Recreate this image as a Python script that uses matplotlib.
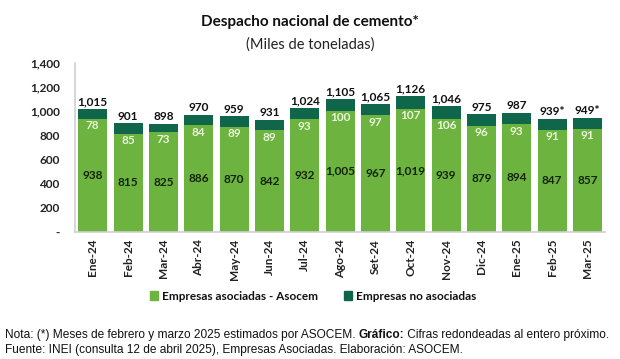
import matplotlib
matplotlib.use("Agg")
import matplotlib.pyplot as plt
from matplotlib.patches import Patch

months = ["Ene-24", "Feb-24", "Mar-24", "Abr-24", "May-24", "Jun-24", "Jul-24",
          "Ago-24", "Set-24", "Oct-24", "Nov-24", "Dic-24", "Ene-25", "Feb-25", "Mar-25"]
asociadas = [938, 815, 825, 886, 870, 842, 932, 1005, 967, 1019, 939, 879, 894, 847, 857]
no_asociadas = [78, 85, 73, 84, 89, 89, 93, 100, 97, 107, 106, 96, 93, 91, 91]
totales = [1015, 901, 898, 970, 959, 931, 1024, 1105, 1065, 1126, 1046, 975, 987, 939, 949]
estimados = [False] * 13 + [True, True]
yticks = [0, 200, 400, 600, 800, 1000, 1200, 1400]
ytick_labels = ["-", "200", "400", "600", "800", "1,000", "1,200", "1,400"]

LIGHT = "#6cb33f"
DARK = "#10664a"
FONT = ["Lato", "DejaVu Sans"]

fig = plt.figure(figsize=(6.2, 3.59), dpi=100)
ax = fig.add_axes([0.121, 0.354, 0.855, 0.4705])

x = list(range(len(months)))
ax.bar(x, asociadas, width=0.82, color=LIGHT, zorder=2)
ax.bar(x, no_asociadas, width=0.82, bottom=asociadas, color=DARK, zorder=2)

for i in x:
    ax.text(i, asociadas[i] / 2, f"{asociadas[i]:,}", ha="center", va="center",
            fontsize=8.5, fontweight="bold", color="#15220c", family=FONT, zorder=3)
    ax.annotate(f"{no_asociadas[i]:,}", (i, asociadas[i]), xytext=(0, -7),
                textcoords="offset pixels", ha="center", va="center",
                fontsize=8.5, fontweight="bold", color="#eaf6dc", family=FONT, zorder=3)
    top = asociadas[i] + no_asociadas[i]
    lab = f"{totales[i]:,}" + ("*" if estimados[i] else "")
    ax.annotate(lab, (i, top), xytext=(0, 7), textcoords="offset pixels",
                ha="center", va="center", fontsize=8.5, fontweight="bold",
                color="#111111", family=FONT, zorder=3)

ax.set_xlim(-0.5, 14.5)
ax.set_ylim(0, 1400)
ax.set_yticks(yticks)
ax.set_yticklabels(ytick_labels, family=FONT, fontsize=8.5, fontweight="bold", color="#222222")
ax.set_xticks(x)
ax.set_xticklabels(months, rotation=90, family=FONT, fontsize=8.5, fontweight="bold", color="#222222")
ax.tick_params(axis="both", length=0)
ax.tick_params(axis="y", pad=11)
ax.tick_params(axis="x", pad=5)
for s in ["top", "right"]:
    ax.spines[s].set_visible(False)
for s in ["left", "bottom"]:
    ax.spines[s].set_color("#d0d0d0")
    ax.spines[s].set_linewidth(1.2)

fig.text(0.5, 0.938, "Despacho nacional de cemento*", ha="center", va="center",
         fontsize=11, fontweight="bold", family=FONT, color="#111111")
fig.text(0.5, 0.877, "(Miles de toneladas)", ha="center", va="center",
         fontsize=10.5, family=FONT, color="#222222")

handles = [Patch(color=LIGHT, label="Empresas asociadas - Asocem"),
           Patch(color=DARK, label="Empresas no asociadas")]
leg = fig.legend(handles=handles, loc="center", bbox_to_anchor=(0.505, 0.175), ncol=2,
                 frameon=False, handlelength=0.7, handleheight=0.7, handletextpad=0.3,
                 columnspacing=2.2, prop={"family": FONT, "size": 8.5, "weight": "bold"})
for t in leg.get_texts():
    t.set_color("#111111")

note_parts = [("Nota: (*) Meses de febrero y marzo 2025 estimados por ASOCEM. ", "normal"),
              ("Gráfico:", "bold"), (" Cifras redondeadas al entero próximo.", "normal")]
fig.canvas.draw()
renderer = fig.canvas.get_renderer()
xpos = 0.008
for txt, w in note_parts:
    t = fig.text(xpos, 0.066, txt, ha="left", va="center", fontsize=8.6,
                 family="Liberation Sans", fontweight=w, color="#111111")
    bb = t.get_window_extent(renderer=renderer)
    xpos += bb.width / fig.bbox.width
fig.text(0.008, 0.024, "Fuente: INEI (consulta 12 de abril 2025), Empresas Asociadas. Elaboración: ASOCEM.",
         ha="left", va="center", fontsize=8.6, family="Liberation Sans", color="#111111")

fig.savefig("out.png", dpi=100)
